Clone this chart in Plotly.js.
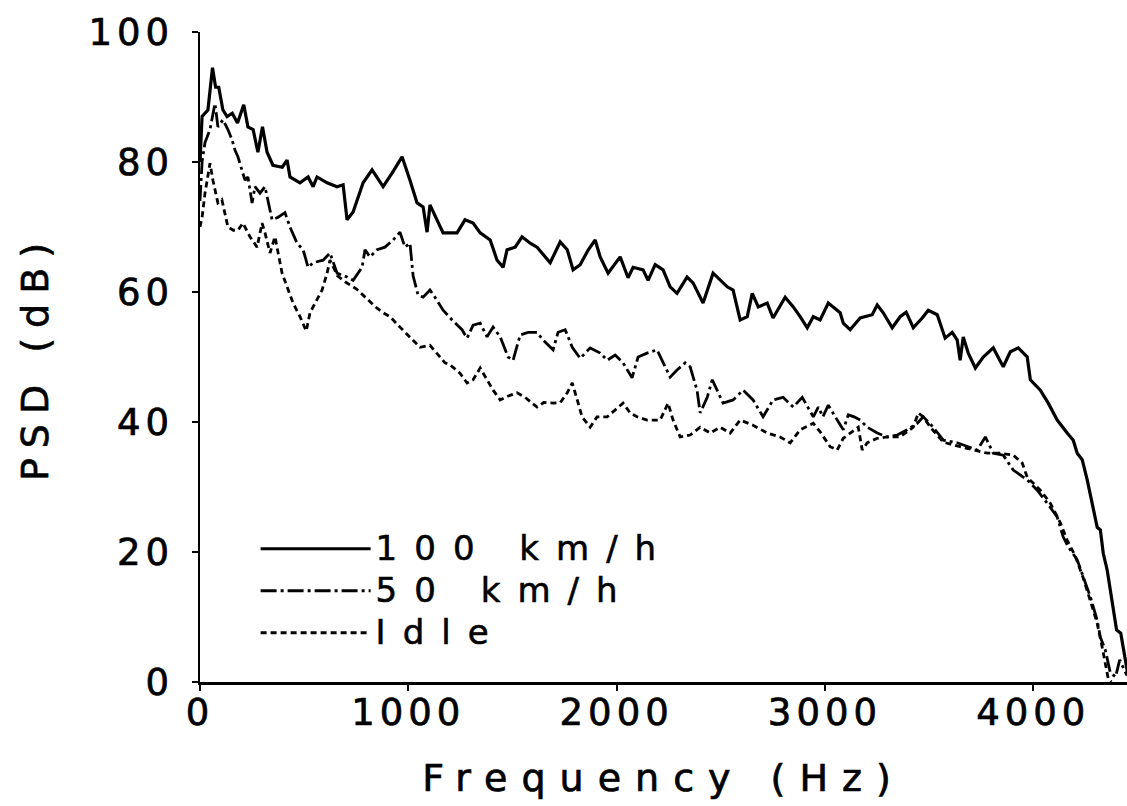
<!DOCTYPE html>
<html>
<head>
<meta charset="utf-8">
<script src="https://cdn.plot.ly/plotly-3.0.1.min.js"></script>
<style>
  html, body { margin: 0; padding: 0; background: #fff; }
  #chart { width: 1127px; height: 806px; }
  .xtick text, .ytick text { letter-spacing: 5px; stroke: #000; stroke-width: 0.7px; }
  .g-xtitle text { letter-spacing: 14px; stroke: #000; stroke-width: 0.7px; }
  .g-ytitle text { letter-spacing: 10px; stroke: #000; stroke-width: 0.7px; }
  .legendtext { letter-spacing: 17px; font-size: 34px !important; stroke: #000; stroke-width: 0.6px; }
</style>
</head>
<body>
<div id="chart"></div>
<script>
// ---- Data (frequency in Hz, PSD in dB) ----
const seriesNames = ["100 km/h", "50 km/h", "Idle"];

const freq100 = [0,10,38,60,75,90,110,130,155,180,210,230,255,278,300,322,350,395,418,432,480,519,543,562,610,658,687,706,735,783,826,879,922,970,1008,1042,1071,1090,1104,1167,1234,1272,1311,1345,1393,1426,1455,1474,1513,1546,1585,1618,1681,1729,1763,1791,1825,1864,1897,1921,1959,2017,2055,2079,2127,2151,2185,2223,2257,2290,2338,2367,2415,2463,2531,2559,2593,2627,2651,2680,2723,2751,2809,2848,2881,2915,2944,2977,3016,3073,3088,3121,3169,3227,3251,3280,3323,3361,3390,3424,3467,3496,3539,3577,3611,3635,3649,3664,3688,3722,3760,3808,3856,3890,3928,3971,3986,4034,4072,4115,4163,4192,4211,4235,4259,4283,4307,4322,4336,4355,4370,4384,4400,4420,4440,4455];
const psd100 = [80,87,88,94.5,91.5,91.5,88,87,87.5,86,88.8,85.4,85,81.5,85.4,81.5,79.5,79.2,80.3,77.7,76.8,77.7,76.2,77.7,76.8,76.2,76.5,71.1,72.3,76.8,78.8,76.2,78.3,80.8,77.2,73.7,73.1,69.2,73.4,69.1,69.1,71.1,70.6,69.1,68.0,64.9,63.8,66.5,66.9,68.5,67.5,66.9,64.5,67.7,66.5,63.4,64.2,66.5,68.0,65.4,62.9,65.4,62.2,63.8,63.4,61.8,64.2,63.4,60.8,59.8,62.3,61.4,58.3,62.9,60.8,60.3,55.7,56.2,59.8,57.7,58.3,56.0,59.2,57.7,56.2,54.5,56.2,55.7,58.3,56.8,55.2,54.2,56.0,56.5,58.0,56.8,54.5,56.2,56.9,54.5,56.0,57.2,56.5,52.9,53.8,52.6,49.5,53.1,50.6,48.3,50.0,51.4,48.5,50.8,51.4,50.0,46.5,44.9,42.9,40.3,38.3,37.2,35.2,34.2,31.1,27.5,23.8,23.4,19.8,17.2,14.2,11.1,8.0,7.5,4.0,1.0];

const freq50 = [0,10,24,48,72,86,110,134,154,168,182,202,216,230,250,264,288,312,336,346,375,408,432,466,495,519,543,591,624,658,706,735,778,792,816,850,888,927,960,984,1008,1023,1047,1071,1104,1128,1167,1210,1258,1282,1311,1345,1378,1407,1441,1479,1503,1537,1575,1618,1647,1695,1719,1753,1787,1825,1873,1921,1955,1993,2031,2074,2103,2146,2194,2223,2257,2290,2329,2353,2386,2401,2435,2459,2483,2511,2559,2607,2655,2703,2751,2799,2848,2891,2944,2968,2990,3016,3059,3088,3112,3140,3169,3203,3251,3299,3347,3395,3443,3472,3520,3568,3635,3683,3731,3770,3808,3856,3904,3971,4019,4067,4115,4144,4168,4211,4240,4274,4307,4322,4346,4370,4395,4415,4435,4450];
const psd50 = [74,80,83,85,89,85.4,86.5,85,83.4,81.8,80.8,78.8,77.2,77.7,73.7,76.2,75.2,76.2,72.2,71.1,71.5,72.2,70.0,67.5,66.5,63.8,64.5,64.9,66.0,62.9,62.3,61.8,63.8,66.5,65.4,66.5,66.9,68.0,69.2,66.9,67.5,62.5,59.5,59.2,60.3,59.2,57.2,55.7,54.2,52.9,54.9,55.2,53.1,54.6,53.1,50.0,49.5,53.4,53.8,53.8,52.6,51.1,53.8,54.2,51.5,49.8,51.4,50.6,49.5,50.3,49.1,46.8,50.0,50.6,51.1,49.1,46.9,48.0,49.1,48.5,44.9,41.4,43.8,46.5,44.9,42.9,43.4,44.9,43.4,40.8,43.4,43.8,42.3,43.8,40.8,42.3,40.8,42.6,40.3,38.8,41.1,40.8,40.3,39.2,38.3,37.7,38.0,38.8,39.8,40.8,39.2,37.2,36.8,36.2,35.7,37.7,35.2,34.9,32.6,31.1,29.5,27.5,25.4,22.3,20.8,18.8,16.2,13.1,9.5,6.9,4.9,1.4,0.8,3.4,2.0,1.0];

const freqIdle = [0,10,24,48,62,86,105,120,134,160,182,206,240,274,298,312,336,360,375,394,418,447,480,510,528,562,586,610,624,660,700,750,800,850,880,912,960,1008,1056,1104,1138,1176,1200,1248,1282,1311,1345,1378,1407,1441,1480,1522,1560,1618,1650,1695,1730,1763,1787,1810,1834,1873,1906,1955,2002,2031,2065,2098,2146,2209,2247,2271,2305,2353,2401,2449,2497,2545,2593,2655,2723,2785,2833,2881,2944,2977,3025,3059,3088,3160,3179,3203,3251,3299,3361,3424,3448,3472,3506,3568,3649,3712,3779,3841,3904,3947,3971,4034,4082,4130,4163,4200,4240,4274,4307,4330,4346,4360,4375];
const psdIdle = [70,71.5,75.2,79.8,77.2,73.7,74.2,72.2,70.0,69.5,69.5,70.6,68.5,66.9,70.6,69.1,66.0,68.5,66.0,62.9,60.8,58.3,56.2,54.0,56.8,58.8,60.3,62.9,64.9,62.5,61.5,60.5,59,57.5,56.8,56.2,54.6,53.1,51.5,51.8,50.6,49.1,48.8,47.5,46.0,46.5,48.3,46.5,44.9,43.4,44.0,44.5,43.8,42.3,43.0,42.9,43.0,44.5,46.0,43.5,40.8,39.2,40.8,40.8,42.1,42.9,41.4,40.8,40.3,40.3,42.9,40.3,37.7,38.0,39.2,38.3,39.2,38.3,40.3,39.5,38.3,37.7,36.8,38.8,39.8,38.5,36.2,35.7,37.5,39.2,35.7,36.8,37.5,37.7,37.7,39.2,41.4,40.8,39.2,36.9,36.2,35.7,35.2,35.2,34.9,33.7,31.5,29.5,27.5,24.5,21.8,19.5,16.0,12.5,9.0,5.5,3.0,0.5,0];

const xTickVals = [0, 1000, 2000, 3000, 4000];
const yTickVals = [0, 20, 40, 60, 80, 100];

const FONT = "DejaVu Sans, Verdana, sans-serif";

const traces = [
  {x: freq100, y: psd100, name: seriesNames[0], type: "scatter", mode: "lines",
   line: {color: "#000", width: 3.2, dash: "solid"}},
  {x: freq50, y: psd50, name: seriesNames[1], type: "scatter", mode: "lines",
   line: {color: "#000", width: 2.8, dash: "16px,4px,3px,4px"}},
  {x: freqIdle, y: psdIdle, name: seriesNames[2], type: "scatter", mode: "lines",
   line: {color: "#000", width: 2.8, dash: "6px,4px"}}
];

const layout = {
  width: 1127, height: 806,
  paper_bgcolor: "#fff", plot_bgcolor: "#fff",
  margin: {l: 200, r: 0, t: 32, b: 124},
  showlegend: true,
  legend: {
    x: 0.06, y: 0.245, xanchor: "left", yanchor: "top",
    bgcolor: "rgba(0,0,0,0)", borderwidth: 0,
    itemwidth: 110,
    font: {family: FONT, size: 30, color: "#000"},
    tracegroupgap: 0
  },
  xaxis: {
    range: [0, 4450], autorange: false,
    tickvals: xTickVals, ticktext: xTickVals.map(String),
    ticks: "outside", ticklen: 6, tickwidth: 2, tickcolor: "#000",
    showline: true, linecolor: "#000", linewidth: 2.5,
    showgrid: false, zeroline: false, mirror: false,
    tickfont: {family: FONT, size: 37, color: "#000"},
    ticklabelstandoff: -10,
    title: {text: "Frequency (Hz)", font: {family: FONT, size: 38, color: "#000"}, standoff: 32}
  },
  yaxis: {
    range: [0, 100], autorange: false,
    tickvals: yTickVals, ticktext: yTickVals.map(String),
    ticks: "outside", ticklen: 6, tickwidth: 2, tickcolor: "#000",
    showline: true, linecolor: "#000", linewidth: 2.5,
    showgrid: false, zeroline: false, mirror: false,
    tickfont: {family: FONT, size: 37, color: "#000"},
    ticklabelstandoff: 10,
    title: {text: "PSD (dB)", font: {family: FONT, size: 38, color: "#000"}, standoff: 28}
  }
};

Plotly.newPlot("chart", traces, layout, {displayModeBar: false, staticPlot: true});
</script>
</body>
</html>
